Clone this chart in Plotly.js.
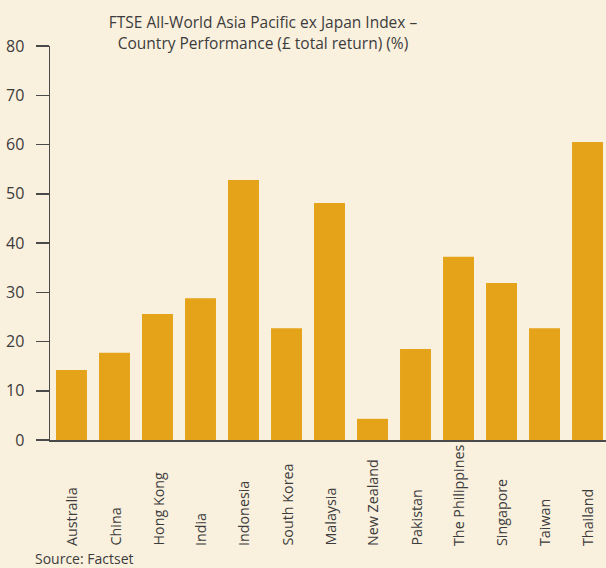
<!DOCTYPE html>
<html><head><meta charset="utf-8">
<script src="https://cdn.plot.ly/plotly-3.0.1.min.js"></script>
<style>body{margin:0;background:#FAF0DE}</style>
</head><body>
<div id="chart" style="width:606px;height:568px"></div>
<script>
const categories = ["Australia","China","Hong Kong","India","Indonesia","South Korea","Malaysia","New Zealand","Pakistan","The Philippines","Singapore","Taiwan","Thailand"];
const returns = [14.2, 17.7, 25.6, 28.8, 52.8, 22.7, 48.1, 4.3, 18.5, 37.2, 31.9, 22.7, 60.5];
const yTicks = [0,10,20,30,40,50,60,70,80];
const titleText = "FTSE All-World Asia Pacific ex Japan Index –<br>Country Performance (£ total return) (%)";
const sourceText = "Source: Factset";

const FONT = "Open Sans, sans-serif";
const xIdx = categories.map((c,i)=>i);

const annotations = categories.map((c,i)=>({
  x: i, xref:'x', y: -(548-440)/394, yref:'paper',
  text: c, textangle: -90, showarrow:false,
  xanchor:'center', yanchor:'bottom',
  font:{family:FONT, size:14.3, color:'#3c3c3c'}
}));
annotations.push({
  x: -17/556, xref:'paper', y: -(558-440)/394, yref:'paper',
  text: sourceText, showarrow:false, xanchor:'left', yanchor:'middle',
  font:{family:FONT, size:14, color:'#3c3c3c'}
});

Plotly.newPlot('chart', [{
  type:'bar', x: xIdx, y: returns,
  marker:{color:'#E5A31A'}, hoverinfo:'skip'
}], {
  width:606, height:568,
  paper_bgcolor:'#FAF0DE', plot_bgcolor:'#FAF0DE',
  margin:{l:50, r:0, t:46, b:128},
  bargap:0.28,
  showlegend:false,
  title:{text:titleText, x:0.434, xanchor:'center', xref:'container', y:0.95, yanchor:'top',
    font:{family:FONT, size:15.5, color:'#3c3c3c'}},
  xaxis:{range:[-0.5, 12.43], showticklabels:false, ticks:'', showgrid:false, zeroline:false,
    showline:true, linecolor:'#4a4a4a', linewidth:1.5, tickvals:xIdx},
  yaxis:{range:[0,80], tickvals:yTicks, ticks:'outside', ticklen:13, tickcolor:'#4a4a4a', tickwidth:1.5,
    showline:true, linecolor:'#4a4a4a', linewidth:1.5, showgrid:false, zeroline:false,
    ticklabelstandoff:8,
    tickfont:{family:FONT, size:16, color:'#3c3c3c'}},
  annotations: annotations
}, {displayModeBar:false, staticPlot:true});
</script>
</body></html>
